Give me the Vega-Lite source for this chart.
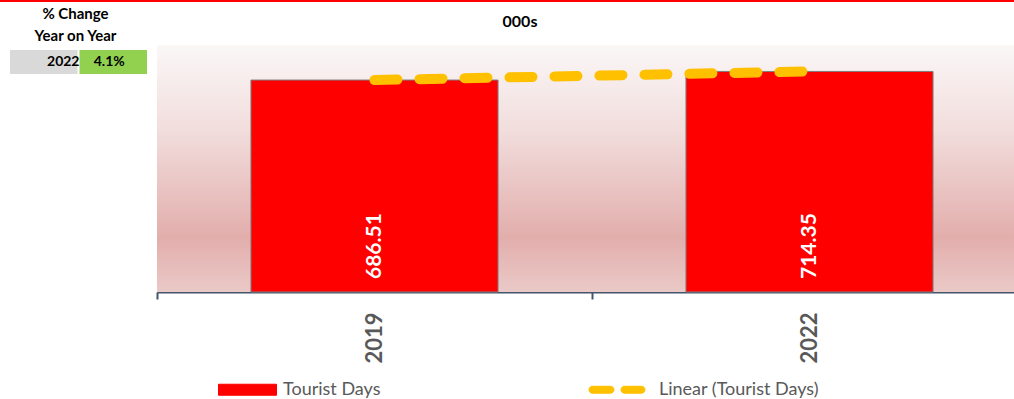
{
  "$schema": "https://vega.github.io/schema/vega-lite/v6.json",
  "padding": 0,
  "background": "white",
  "config": {"view": {"stroke": null}, "font": "Lato"},
  "spacing": 5,
  "vconcat": [
    {
      "width": 1014,
      "height": 2,
      "data": {"values": [{"line": "top"}]},
      "mark": {"type": "rect", "color": "#ff0000"},
      "encoding": {}
    },
    {
      "spacing": 0,
      "bounds": "flush",
      "resolve": {"scale": {"x": "independent", "y": "independent", "color": "independent", "fill": "independent"}},
      "hconcat": [
        {
          "width": 157,
          "height": 29,
          "title": {"text": ["% Change", "Year on Year"], "fontSize": 15, "fontWeight": "bold", "lineHeight": 22, "color": "#000000", "anchor": "middle", "dx": -3, "offset": 1},
          "data": {"values": [{"col": "year", "label": "2022"}, {"col": "change", "label": "4.1%"}]},
          "layer": [
            {
              "mark": {"type": "rect"},
              "encoding": {
                "x": {"field": "col", "type": "nominal", "sort": ["year", "change"], "scale": {"paddingInner": 0.0288, "paddingOuter": 0.1439}, "axis": null},
                "y": {"datum": "cell", "type": "nominal", "scale": {"paddingInner": 0, "paddingOuter": 0.104, "align": 1}, "axis": null},
                "fill": {"field": "col", "type": "nominal", "scale": {"domain": ["year", "change"], "range": ["#d9d9d9", "#92d050"]}, "legend": null}
              }
            },
            {
              "transform": [{"filter": "datum.col === 'year'"}],
              "mark": {"type": "text", "align": "right", "baseline": "middle", "fontSize": 14, "fontWeight": "bold", "color": "#000000", "dx": 2},
              "encoding": {
                "x": {"field": "col", "type": "nominal", "bandPosition": 1, "sort": ["year", "change"], "axis": null},
                "y": {"datum": "cell", "type": "nominal", "axis": null},
                "text": {"field": "label"}
              }
            },
            {
              "transform": [{"filter": "datum.col === 'change'"}],
              "mark": {"type": "text", "align": "center", "baseline": "middle", "fontSize": 14, "fontWeight": "bold", "color": "#000000", "dx": -4},
              "encoding": {
                "x": {"field": "col", "type": "nominal", "sort": ["year", "change"], "axis": null},
                "y": {"datum": "cell", "type": "nominal", "axis": null},
                "text": {"field": "label"}
              }
            }
          ]
        },
        {
          "width": 870,
          "height": 247,
          "title": {"text": "000s", "fontSize": 16, "fontWeight": "bold", "color": "#000000", "anchor": "middle", "dx": -72, "offset": 15},
          "data": {"values": [
            {"year": "2019", "days": 686.51, "trend": 686.51},
            {"year": "2022", "days": 714.35, "trend": 714.35}
          ]},
          "layer": [
            {
              "data": {"values": [{"bg": 1}]},
              "mark": {"type": "rect", "color": {"gradient": "linear", "x1": 0, "y1": 0, "x2": 0, "y2": 1, "stops": [
                {"offset": 0, "color": "#fbf7f7"},
                {"offset": 0.35, "color": "#f1dddc"},
                {"offset": 0.78, "color": "#e2aeac"},
                {"offset": 1, "color": "#eac9c7"}
              ]}},
              "encoding": {}
            },
            {
              "mark": {"type": "bar", "stroke": "#7f7f7f", "strokeWidth": 1, "width": {"band": 0.568}},
              "encoding": {
                "x": {"field": "year", "type": "ordinal", "scale": {"paddingInner": 0, "paddingOuter": 0},
                  "axis": {"title": null, "labelAngle": 270, "labelFontSize": 22, "labelFontWeight": "bold", "labelColor": "#595959", "labelPadding": 13,
                    "domainColor": "#44546a", "domainWidth": 2, "tickColor": "#44546a", "tickWidth": 2, "tickSize": 7, "tickBand": "extent", "grid": false}},
                "y": {"field": "days", "type": "quantitative", "scale": {"domain": [0, 800]}, "axis": null},
                "color": {"datum": "Tourist Days", "type": "nominal",
                  "scale": {"domain": ["Tourist Days", "Linear (Tourist Days)"], "range": ["#ff0000", "#ffc000"]},
                  "legend": {"title": null, "orient": "none", "legendX": 61, "legendY": 315, "direction": "horizontal",
                    "symbolSize": 3364, "labelOffset": 6, "columnPadding": 205, "labelFontSize": 18, "labelColor": "#595959", "labelFont": "Lato", "padding": 0,
                    "symbolType": {"expr": "datum.value === 'Tourist Days' ? 'M-1,-0.19H1V0.19H-1Z' : 'M-1.07,-0.12H-0.448A0.12,0.12 0 0 1 -0.448,0.12H-1.07A0.12,0.12 0 0 1 -1.07,-0.12ZM0.034,-0.12H0.621A0.12,0.12 0 0 1 0.621,0.12H0.034A0.12,0.12 0 0 1 0.034,-0.12Z'"},
                    "symbolStrokeWidth": 1,
                    "symbolOpacity": 1,
                    "symbolFillColor": {"expr": "datum.value === 'Tourist Days' ? '#ff0000' : '#ffc000'"},
                    "symbolStrokeColor": {"expr": "datum.value === 'Tourist Days' ? '#7f7f7f' : '#ffc000'"}
                  }}
              }
            },
            {
              "mark": {"type": "text", "angle": 270, "align": "left", "baseline": "middle", "dx": 13, "fontSize": 21, "fontWeight": "bold", "color": "#ffffff"},
              "encoding": {
                "x": {"field": "year", "type": "ordinal"},
                "y": {"datum": 0, "type": "quantitative"},
                "text": {"field": "days", "type": "quantitative", "format": ".2f"}
              }
            },
            {
              "mark": {"type": "line", "strokeWidth": 10, "strokeCap": "round", "strokeDash": [23, 22]},
              "encoding": {
                "x": {"field": "year", "type": "ordinal"},
                "y": {"field": "trend", "type": "quantitative"},
                "color": {"datum": "Linear (Tourist Days)", "type": "nominal", "legend": null}
              }
            }
          ]
        }
      ]
    }
  ]
}
